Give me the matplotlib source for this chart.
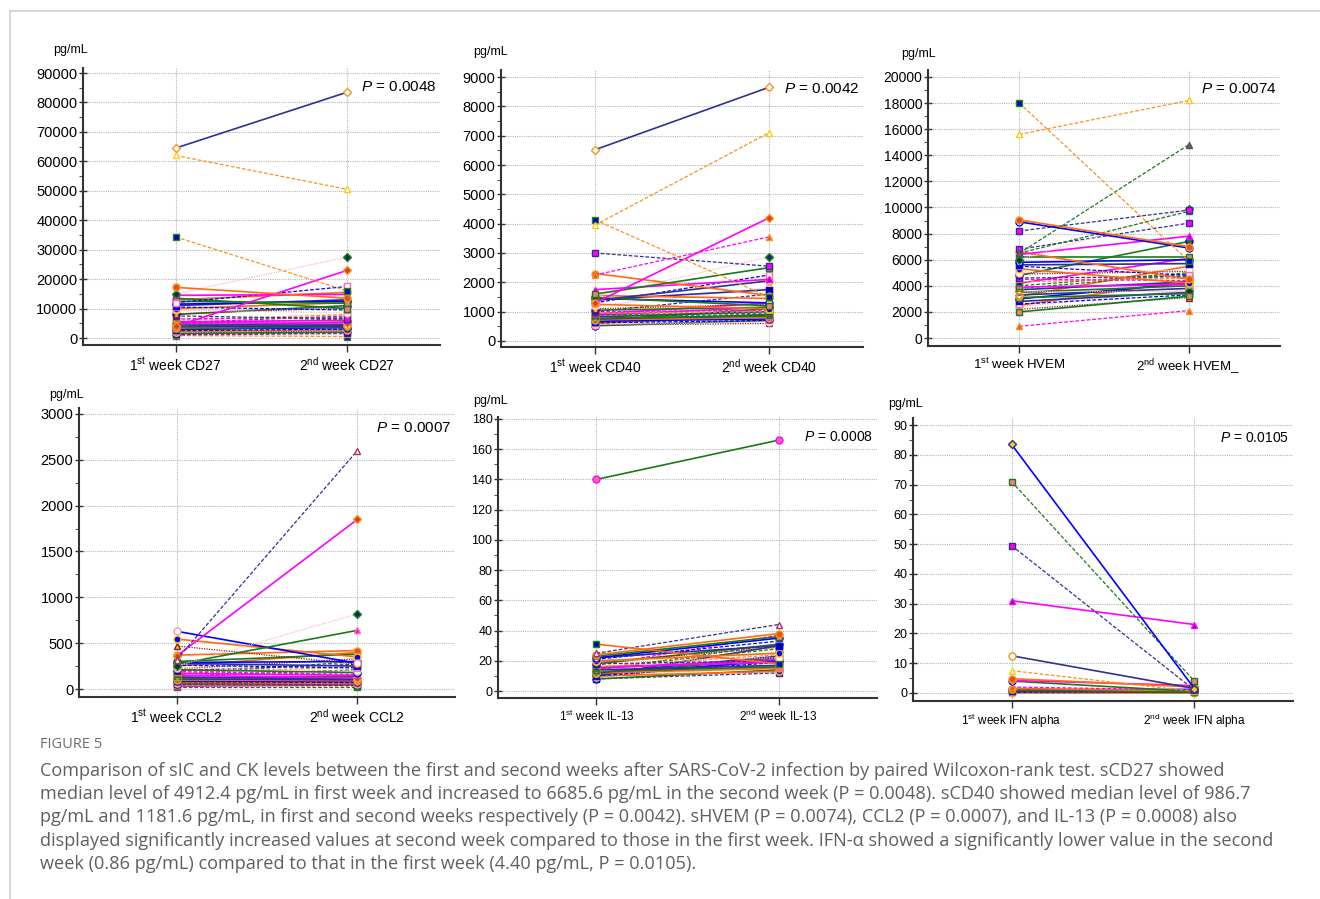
import matplotlib
matplotlib.use("Agg")
import matplotlib.pyplot as plt
from matplotlib.lines import Line2D
from matplotlib.ticker import MultipleLocator

# ---- data (pg/mL), one pair per patient: 1st week, 2nd week ----
cd27_w1 = [64.5, 62.0, 34.3, 17.2, 15.0, 4.0, 14.5, 12.0, 13.5, 13.0, 12.5, 11.5, 11.0, 10.5,
           10.0, 9.5, 8.2, 8.0, 7.5, 6.5, 6.0, 5.5, 5.2, 5.0, 4.8, 4.5, 4.2, 4.0, 3.8, 3.5,
           3.2, 3.0, 2.8, 2.5, 2.2, 2.0, 1.8, 1.5, 1.2, 1.0, 0.8]
cd27_w2 = [83.5, 50.5, 16.0, 13.5, 27.5, 23.0, 14.8, 17.5, 10.0, 15.5, 11.8, 12.5, 13.0, 9.5,
           12.0, 8.5, 10.2, 11.0, 6.5, 7.0, 8.0, 6.0, 7.5, 5.0, 6.5, 4.5, 5.8, 5.5, 4.0, 4.5,
           3.8, 3.5, 4.2, 3.0, 2.8, 3.2, 2.5, 2.0, 1.8, 1.5, 0.5]
cd27_w1 = [v * 1000 for v in cd27_w1]
cd27_w2 = [v * 1000 for v in cd27_w2]

cd40_w1 = [6520, 3950, 4130, 1300, 2250, 3000, 1600, 2300, 1500, 1750, 1380, 1550, 1480, 1450,
           1400, 1300, 1250, 1200, 1100, 1050, 1000, 1000, 950, 920, 900, 880, 850, 820, 800,
           780, 750, 720, 700, 680, 650, 620, 600, 560, 540, 520]
cd40_w2 = [8650, 7100, 1500, 4200, 3550, 2550, 2500, 1550, 2870, 2100, 2050, 1450, 1200, 1300,
           1750, 2250, 1100, 1800, 1250, 1150, 1600, 1050, 1000, 1300, 950, 1150, 900, 1000,
           1150, 850, 880, 800, 1100, 750, 900, 700, 850, 650, 600, 700]

hvem_w1 = [18000, 15600, 6500, 9050, 8900, 8200, 6500, 6000, 6800, 6400, 900, 2000, 6600, 6200,
           5800, 5600, 5500, 5300, 5000, 4900, 4800, 4600, 4500, 4300, 4200, 4000, 3900, 3800,
           3700, 3600, 3500, 3300, 3200, 3100, 3000, 2800, 2600, 2500, 2400, 2200]
hvem_w2 = [5900, 18200, 14800, 7000, 6900, 9800, 9700, 9900, 8800, 7800, 2100, 3200, 4500, 6200,
           6000, 5700, 4800, 4200, 5200, 5100, 7400, 4700, 4400, 4600, 6100, 5000, 4100, 4900,
           4300, 3600, 4000, 3800, 5500, 3400, 4200, 3500, 3300, 4400, 3700, 3100]

ccl2_w1 = [320, 360, 250, 270, 630, 545, 470, 370, 300, 290, 280, 260, 250, 230, 220, 210, 200,
           190, 180, 170, 160, 150, 140, 130, 125, 120, 110, 100, 95, 90, 85, 80, 75, 70, 60,
           55, 50, 45, 40, 30, 20]
ccl2_w2 = [2600, 1850, 820, 640, 280, 350, 270, 420, 380, 300, 250, 230, 400, 200, 330, 180, 270,
           160, 240, 150, 300, 120, 210, 110, 180, 140, 100, 90, 120, 80, 100, 70, 60, 90, 50,
           60, 40, 55, 30, 45, 20]

il13_w1 = [140, 31, 25, 24, 23, 22, 22, 21, 20, 20, 19, 18, 18, 17, 16, 16, 15, 15, 14, 14, 13,
           13, 12, 12, 11, 11, 10, 10, 10, 9, 9, 8, 8]
il13_w2 = [166, 18, 44, 38, 36, 35, 30, 33, 25, 22, 29, 31, 20, 37, 24, 19, 28, 21, 31, 17, 26,
           16, 23, 15, 22, 20, 30, 19, 13, 17, 21, 14, 12]

ifn_w1 = [83.5, 71, 49.5, 31, 12.5, 7.5, 4.8, 4.2, 4.0, 2.0, 1.5, 1.0, 1.0, 0.5, 0.2, 0, 0]
ifn_w2 = [1.5, 4.0, 1.0, 23, 1.5, 0.5, 2.0, 2.5, 0.5, 1.0, 0.8, 0.3, 1.2, 0.2, 0.5, 0, 0.3]

# ---- line styles: (line colour, dash, marker, face, edge) ----
STYLES = [
    ('#2e3192', '-', 'D', 'white', '#f7941d'),
    ('#f7941d', '--', '^', 'white', '#ffc90e'),
    ('#f7941d', '--', 's', '#0000c8', '#1a8a1a'),
    ('#ff6a13', '-', 'o', '#e8501e', '#f7941d'),
    ('#ffb3c1', ':', 'D', '#102a5c', '#1a8a1a'),
    ('#ff00ff', '-', 'D', '#e03c1e', '#f7941d'),
    ('#ff00ff', '-', '^', '#8000c0', '#ff00ff'),
    ('#0000ff', '--', 's', 'white', '#ff69b4'),
    ('#1a7a1a', '-', 's', '#f08080', '#1a7a1a'),
    ('#0000ff', '-', 'o', 'white', '#0000ff'),
    ('#2e3192', '--', 's', '#ff00ff', '#2e3192'),
    ('#8b1a1a', ':', '^', '#ffc90e', '#8b1a1a'),
    ('#1a7a1a', '--', '^', '#ff00ff', '#1a7a1a'),
    ('#ff00ff', '--', '^', '#e8501e', '#f7941d'),
    ('#ff6a13', '-', 'o', '#0000ff', '#ffc90e'),
    ('#ffb3c1', ':', 'o', 'white', '#ffb3c1'),
    ('#2e3192', '-', 's', '#000080', '#0000ff'),
    ('#1a7a1a', '-', 'o', '#1a7a1a', '#0000ff'),
    ('#2e3192', '--', '^', 'white', '#b03060'),
    ('#1a7a1a', '-', '^', '#ff00ff', '#ff69b4'),
    ('#0000ff', '-', 'o', 'white', '#ff9999'),
    ('#1a7a1a', '-', 'o', '#ff69b4', '#ff00ff'),
    ('#0000ff', '-', 'D', '#ffc90e', '#2e3192'),
    ('#1a7a1a', '--', 's', '#f08080', '#1a7a1a'),
    ('#2e3192', '-', 'o', 'white', '#f7941d'),
    ('#ff6a13', '-', 's', '#0000c8', '#1a8a1a'),
]
CYCLE = [3, 8, 9, 16, 7, 14, 15, 11, 17, 10, 13, 2, 6, 23, 5, 12, 24, 4, 19, 0]
DASHES = {'-': '-', '--': (0, (3, 1.5)), ':': (0, (1, 1))}

# panel settings: data, head styles, px box (left, top, right, bottom), ylim, ticks, texts
panels = [
    (cd27_w1, cd27_w2, [0, 1, 2, 3, 4, 5, 6, 7, 8], (83, 68, 440, 345), (-2377, 91700),
     10000, 5000, 'CD27', 'CD27', 'P = 0.0048', 10, 11),
    (cd40_w1, cd40_w2, [0, 1, 2, 5, 13, 10, 8, 3, 4, 6, 24], (501, 70, 863, 347), (-205, 9239),
     1000, 500, 'CD40', 'CD40', 'P = 0.0042', 10, 11),
    (hvem_w1, hvem_w2, [2, 1, 12, 3, 9, 10, 12, 4, 10, 6, 13, 8], (928, 70, 1280, 346),
     (-613, 20536), 2000, 1000, 'HVEM', 'HVEM_', 'P = 0.0074', 9.5, 11),
    (ccl2_w1, ccl2_w2, [18, 5, 4, 19, 20, 14, 11], (79, 408, 455, 697), (-87, 3065),
     500, 250, 'CCL2', 'CCL2', 'P = 0.0007', 10, 11),
    (il13_w1, il13_w2, [21, 25, 18], (498, 417, 877, 698), (-4.6, 181.3),
     20, 10, 'IL-13', 'IL-13', 'P = 0.0008', 8.5, 10),
    (ifn_w1, ifn_w2, [22, 23, 10, 6, 24, 1, 3, 5, 17, 13], (913, 418, 1293, 701), (-2.7, 92.4),
     10, 5, 'IFN alpha', 'IFN alpha', 'P = 0.0105', 8.5, 10),
]
ylabel_pos = [(70, 50), (490, 52), (918, 54), (66, 395), (490, 401), (905, 404)]

W, H = 1320, 899
plt.rcParams['font.family'] = ['Liberation Sans', 'DejaVu Sans']
plt.rcParams['mathtext.fontset'] = 'custom'
plt.rcParams['mathtext.rm'] = 'Liberation Sans'
plt.rcParams['mathtext.it'] = 'Liberation Sans:italic'
fig = plt.figure(figsize=(W / 100, H / 100), dpi=100)

for k, (w1, w2, head, box, ylim, major, minor, lab1, lab2, ptxt, fs, pfs) in enumerate(panels):
    l, t, r, b = box
    ax = fig.add_axes([l / W, 1 - b / H, (r - l) / W, (b - t) / H])
    order = head + [CYCLE[i % len(CYCLE)] for i in range(len(w1) - len(head))]
    # draw the cluster first, highlighted lines last
    for i in reversed(range(len(w1))):
        c, ls, m, fc, ec = STYLES[order[i]]
        ax.plot([0, 1], [w1[i], w2[i]], color=c, linestyle=DASHES[ls],
                lw=1.2 if ls == '-' else 0.9, marker=m, markersize=5 if m != 'D' else 4.5,
                markerfacecolor=fc, markeredgecolor=ec, markeredgewidth=1.0,
                zorder=3, clip_on=False)
    ax.set_xlim(-0.54, 1.54)
    ax.set_ylim(*ylim)
    ax.yaxis.set_major_locator(MultipleLocator(major))
    ax.yaxis.set_minor_locator(MultipleLocator(minor))
    ax.set_xticks([0, 1])
    ax.set_xticklabels([r'1$^{\mathrm{st}}$ week ' + lab1, r'2$^{\mathrm{nd}}$ week ' + lab2],
                       fontsize=fs)
    ax.tick_params(axis='y', which='major', direction='inout', length=6, width=1,
                   labelsize=fs + 0.5, pad=1, colors='#333333', labelcolor='black')
    ax.tick_params(axis='y', which='minor', direction='out', length=3, width=0.8,
                   colors='#555555')
    ax.tick_params(axis='x', direction='out', length=5, width=1, pad=3, colors='#333333',
                   labelcolor='black')
    ax.grid(True, which='major', color='#b5b5b5', linestyle=(0, (1, 1)), linewidth=0.8)
    ax.set_axisbelow(True)
    for s in ('top', 'right'):
        ax.spines[s].set_visible(False)
    for s in ('left', 'bottom'):
        ax.spines[s].set_color('#333333')
        ax.spines[s].set_linewidth(1.5)
    ax.text(0.99, 0.93, ptxt.replace('P', '$P$'), transform=ax.transAxes, ha='right',
            va='center', fontsize=pfs)
    xl, yl = ylabel_pos[k]
    fig.text(xl / W, 1 - yl / H, 'pg/mL', ha='center', va='center', fontsize=9)

# page frame
fig.add_artist(Line2D([10 / W, 1], [1 - 11 / H, 1 - 11 / H], color='#cfcfcf', lw=1.2))
fig.add_artist(Line2D([10 / W, 10 / W], [0, 1 - 11 / H], color='#cfcfcf', lw=1.2))

# caption
cap_font = ['Open Sans', 'DejaVu Sans']
fig.text(40 / W, 1 - 745 / H, 'FIGURE 5', fontsize=10.5, color='#6d6d6d', family=cap_font,
         va='center')
caption = [
    'Comparison of sIC and CK levels between the first and second weeks after SARS-CoV-2 '
    'infection by paired Wilcoxon-rank test. sCD27 showed',
    'median level of 4912.4 pg/mL in first week and increased to 6685.6 pg/mL in the second '
    'week (P = 0.0048). sCD40 showed median level of 986.7',
    'pg/mL and 1181.6 pg/mL, in first and second weeks respectively (P = 0.0042). sHVEM '
    '(P = 0.0074), CCL2 (P = 0.0007), and IL-13 (P = 0.0008) also',
    'displayed significantly increased values at second week compared to those in the first '
    'week. IFN-\u03b1 showed a significantly lower value in the second',
    'week (0.86 pg/mL) compared to that in the first week (4.40 pg/mL, P = 0.0105).',
]
for i, line in enumerate(caption):
    fig.text(40 / W, 1 - (771 + 23.2 * i) / H, line, fontsize=13.1, color='#5f5f5f',
             family=cap_font, va='center')

fig.savefig('out.png', dpi=100)
